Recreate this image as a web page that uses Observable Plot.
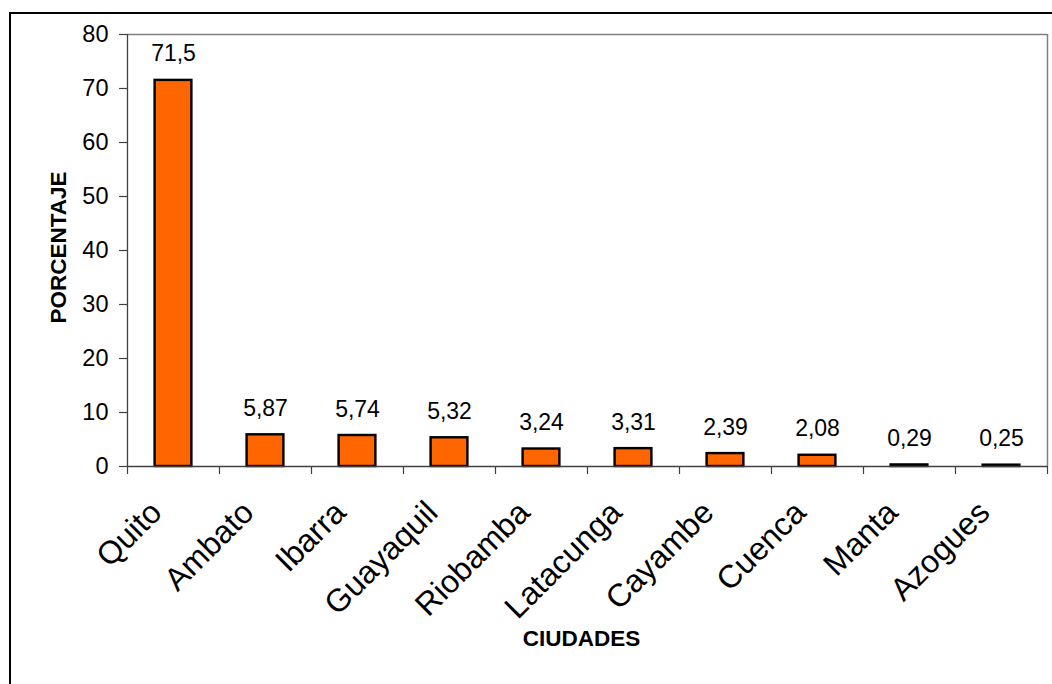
<!DOCTYPE html>
<html>
<head>
<meta charset="utf-8">
<script src="https://cdn.jsdelivr.net/npm/d3@7"></script>
<script src="https://cdn.jsdelivr.net/npm/@observablehq/plot@0.6"></script>
<style>
  html, body { margin: 0; padding: 0; background: #fff; }
  #wrap { position: relative; width: 1052px; height: 684px; overflow: hidden; font-family: "Liberation Sans", Arial, sans-serif; }
  #border { position: absolute; left: 9px; top: 12px; right: -10px; bottom: -10px; border-left: 2px solid #000; border-top: 2px solid #000; pointer-events: none; }
  #chart svg { display: block; }
</style>
</head>
<body>
<div id="wrap"><div id="chart"></div><div id="border"></div></div>
<script>
const cities = ["Quito", "Ambato", "Ibarra", "Guayaquil", "Riobamba", "Latacunga", "Cayambe", "Cuenca", "Manta", "Azogues"];
const values = [71.5, 5.87, 5.74, 5.32, 3.24, 3.31, 2.39, 2.08, 0.29, 0.25];
const yTicks = [0, 10, 20, 30, 40, 50, 60, 70, 80];
const xTitle = "CIUDADES";
const yTitle = "PORCENTAJE";

const data = cities.map((c, i) => ({city: c, value: values[i], i}));
const fmt = v => String(v).replace(".", ",");
const font = "'Liberation Sans', Arial, sans-serif";

const chart = Plot.plot({
  width: 1052,
  height: 684,
  marginLeft: 127,
  marginRight: 5,
  marginTop: 34,
  marginBottom: 218,
  style: {fontFamily: font, background: "#fff", color: "#000", overflow: "visible"},
  x: {type: "linear", domain: [0, cities.length], axis: null},
  y: {domain: [0, 80], axis: null},
  marks: [
    Plot.ruleY([80], {stroke: "#808080", strokeWidth: 1.5}),
    Plot.ruleX([cities.length], {stroke: "#808080", strokeWidth: 1.5}),
    Plot.axisY({ticks: yTicks, tickSize: 8, tickPadding: 11, fontSize: 23.5, stroke: "#404040", strokeWidth: 1.2, label: null, tickFormat: d => d}),
    Plot.axisX({ticks: d3.range(0, cities.length + 1), tickSize: 8, tickFormat: () => "", stroke: "#404040", strokeWidth: 1.2, label: null}),
    Plot.rectY(data, {x1: d => d.i + 0.3, x2: d => d.i + 0.7, y1: 0, y2: "value", fill: "#FF6600", stroke: "#000", strokeWidth: 2.4}),
    Plot.ruleX([0], {stroke: "#404040", strokeWidth: 1.3}),
    Plot.ruleY([0], {stroke: "#404040", strokeWidth: 1.3}),
    Plot.text(data, {x: d => d.i + 0.5, y: "value", text: d => fmt(d.value), lineAnchor: "bottom", dy: -19, fontSize: 23, fill: "#000"}),
    Plot.text(data, {x: d => d.i + 0.5, y: 0, text: "city", rotate: -45, textAnchor: "end", lineAnchor: "bottom", dx: -10, dy: 48, fontSize: 32, fill: "#000"}),
    Plot.text([xTitle], {x: cities.length / 2, y: 0, text: d => d, lineAnchor: "bottom", dx: -6, dy: 179, fontSize: 22.5, fontWeight: "bold", fill: "#000"}),
    Plot.text([yTitle], {frameAnchor: "left", text: d => d, rotate: -90, textAnchor: "middle", lineAnchor: "bottom", dx: -62, dy: -3, fontSize: 22.5, fontWeight: "bold", fill: "#000"})
  ]
});
document.getElementById("chart").appendChild(chart);
</script>
</body>
</html>
